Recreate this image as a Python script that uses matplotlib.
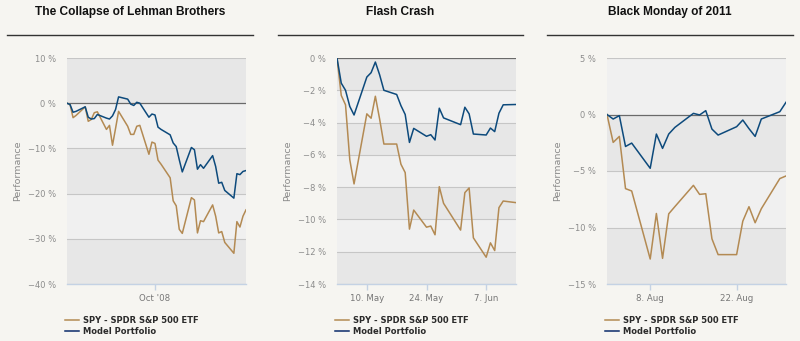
import pandas as pd
import matplotlib
matplotlib.use("Agg")
import matplotlib.pyplot as plt
import matplotlib.dates as mdates

# --- data (percent performance) ---
lehman_dates = pd.bdate_range("2008-09-02", "2008-10-31")
lehman_spy = [0, -0.3, -3.2, -2.7, -0.8, -4.0, -3.6, -2.1, -1.9, -5.8, -4.9, -9.3, -5.6, -1.8,
              -5.1, -6.9, -6.9, -5.1, -4.9, -11.3, -8.6, -8.9, -12.6, -13.5, -16.5, -21.6, -22.7,
              -27.9, -28.8, -20.9, -21.4, -28.7, -26.0, -26.2, -22.5, -25.0, -28.7, -28.4, -30.8,
              -33.2, -26.2, -27.4, -25.0, -23.6]
lehman_model = [0, -0.3, -2.0, -1.8, -0.8, -3.1, -3.5, -3.4, -2.5, -3.3, -3.5, -2.8, -1.4, 1.4,
                0.9, -0.2, -0.5, 0.2, 0.0, -3.1, -2.4, -2.6, -5.3, -5.8, -7.0, -8.8, -9.6,
                -12.5, -15.2, -9.8, -10.3, -14.6, -13.6, -14.4, -11.6, -14.0, -17.7, -17.5, -19.3,
                -21.0, -15.6, -15.8, -15.1, -14.9]

flash_dates = pd.bdate_range("2010-05-03", "2010-06-14").drop(pd.Timestamp("2010-05-31"))
flash_spy = [0, -2.32, -2.9, -6.3, -7.8, -3.46, -3.73, -2.37, -3.78, -5.33, -5.33, -6.58, -7.1,
             -10.6, -9.42, -10.48, -10.41, -10.95, -7.97, -9.0, -10.66, -8.34, -8.05, -11.14,
             -12.34, -11.45, -11.93, -9.27, -8.86, -8.96]
flash_model = [0, -1.56, -2.0, -3.0, -3.53, -1.18, -0.91, -0.25, -1.04, -2.0, -2.26, -2.95, -3.5,
               -5.23, -4.36, -4.85, -4.75, -5.08, -3.11, -3.71, -4.13, -3.05, -3.46, -4.71,
               -4.77, -4.34, -4.56, -3.42, -2.9, -2.88]

bm_dates = pd.bdate_range("2011-08-01", "2011-08-30")
bm_spy = [0, -2.47, -1.94, -6.56, -6.77, -12.79, -8.76, -12.73, -8.79, -8.15, -6.27, -7.07,
          -7.01, -11.0, -12.4, -12.4, -9.44, -8.16, -9.58, -8.34, -5.67, -5.44]
bm_model = [0, -0.4, -0.1, -2.83, -2.53, -4.76, -1.73, -3.0, -1.73, -1.14, 0.1, -0.04, 0.34,
            -1.29, -1.82, -1.08, -0.49, -1.25, -1.94, -0.4, 0.25, 1.08]

titles = ["The Collapse of Lehman Brothers", "Flash Crash", "Black Monday of 2011"]
yticks = [[10, 0, -10, -20, -30, -40],
          [0, -2, -4, -6, -8, -10, -12, -14],
          [5, 0, -5, -10, -15]]
xtick_dates = [["2008-10-01"], ["2010-05-10", "2010-05-24", "2010-06-07"], ["2011-08-08", "2011-08-22"]]
xtick_labels = [["Oct '08"], ["10. May", "24. May", "7. Jun"], ["8. Aug", "22. Aug"]]

panels = [(lehman_dates, lehman_spy, lehman_model),
          (flash_dates, flash_spy, flash_model),
          (bm_dates, bm_spy, bm_model)]

BG = "#f6f5f1"
SPY_COLOR = "#b38a53"
MODEL_COLOR = "#0d4a7c"
W, H = 800, 341

fig = plt.figure(figsize=(W / 100, H / 100), dpi=100)
fig.patch.set_facecolor(BG)

ax_left = [67, 337, 607]
title_x = [130, 400, 670]
rule_x = [(7, 253), (278, 523), (547, 793)]

for i, (dates, spy, model) in enumerate(panels):
    ax = fig.add_axes([ax_left[i] / W, 1 - 284 / H, 179 / W, 226 / H])
    ax.set_facecolor("none")

    # alternating bands, from the bottom up
    ticks = sorted(yticks[i])
    for k in range(len(ticks) - 1):
        col = "#e7e7e7" if k % 2 == 0 else "#f0f0f0"
        ax.axhspan(ticks[k], ticks[k + 1], color=col, lw=0, zorder=0)
    for t in ticks:
        if t == 0:
            ax.axhline(0, color="#6a6a6a", lw=0.9, zorder=1)
        else:
            ax.axhline(t, color="#c6c6c6", lw=0.8, zorder=1)

    ax.plot(dates, spy, color=SPY_COLOR, lw=1.1, zorder=3, label="SPY - SPDR S&P 500 ETF")
    ax.plot(dates, model, color=MODEL_COLOR, lw=1.1, zorder=4, label="Model Portfolio")

    ax.set_xlim(dates[0], dates[-1])
    ax.set_ylim(ticks[0], ticks[-1])
    ax.set_yticks(yticks[i])
    ax.set_yticklabels([f"{t} %".replace("-", "\u2212") for t in yticks[i]])
    ax.set_xticks([mdates.date2num(pd.Timestamp(d)) for d in xtick_dates[i]])
    ax.set_xticklabels(xtick_labels[i])

    for s in ["top", "right", "left"]:
        ax.spines[s].set_visible(False)
    ax.spines["bottom"].set_color("#c4d2e4")
    ax.spines["bottom"].set_linewidth(1.0)
    ax.tick_params(axis="y", length=0, pad=8, labelsize=6, labelcolor="#8c8c8c")
    ax.tick_params(axis="x", length=4, width=1, color="#c4d2e4", pad=3,
                   labelsize=6.2, labelcolor="#777777")
    ax.set_ylabel("Performance", fontsize=6.8, color="#8a8a8a")
    ax.yaxis.set_label_coords(-45 / 179, 0.5)

    fig.text(title_x[i] / W, 1 - 12 / H, titles[i], ha="center", va="center",
             fontsize=8.6, fontweight="bold", family="Liberation Sans", color="#111111")
    fig.add_artist(plt.Line2D([rule_x[i][0] / W, rule_x[i][1] / W], [1 - 35 / H, 1 - 35 / H],
                              color="#333333", lw=1.0))

    leg = ax.legend(loc="upper left", bbox_to_anchor=((ax_left[i] - 6) / W, 1 - 312 / H),
                    bbox_transform=fig.transFigure, frameon=False, fontsize=6.0,
                    handlelength=1.6, handletextpad=0.5, labelspacing=0.2, borderpad=0)
    leg.get_lines()[1].set_color("#0a2a6a")
    for txt in leg.get_texts():
        txt.set_color("#2a2a2a")
        txt.set_fontweight("bold")

fig.savefig("out.png", dpi=100, facecolor=BG)
